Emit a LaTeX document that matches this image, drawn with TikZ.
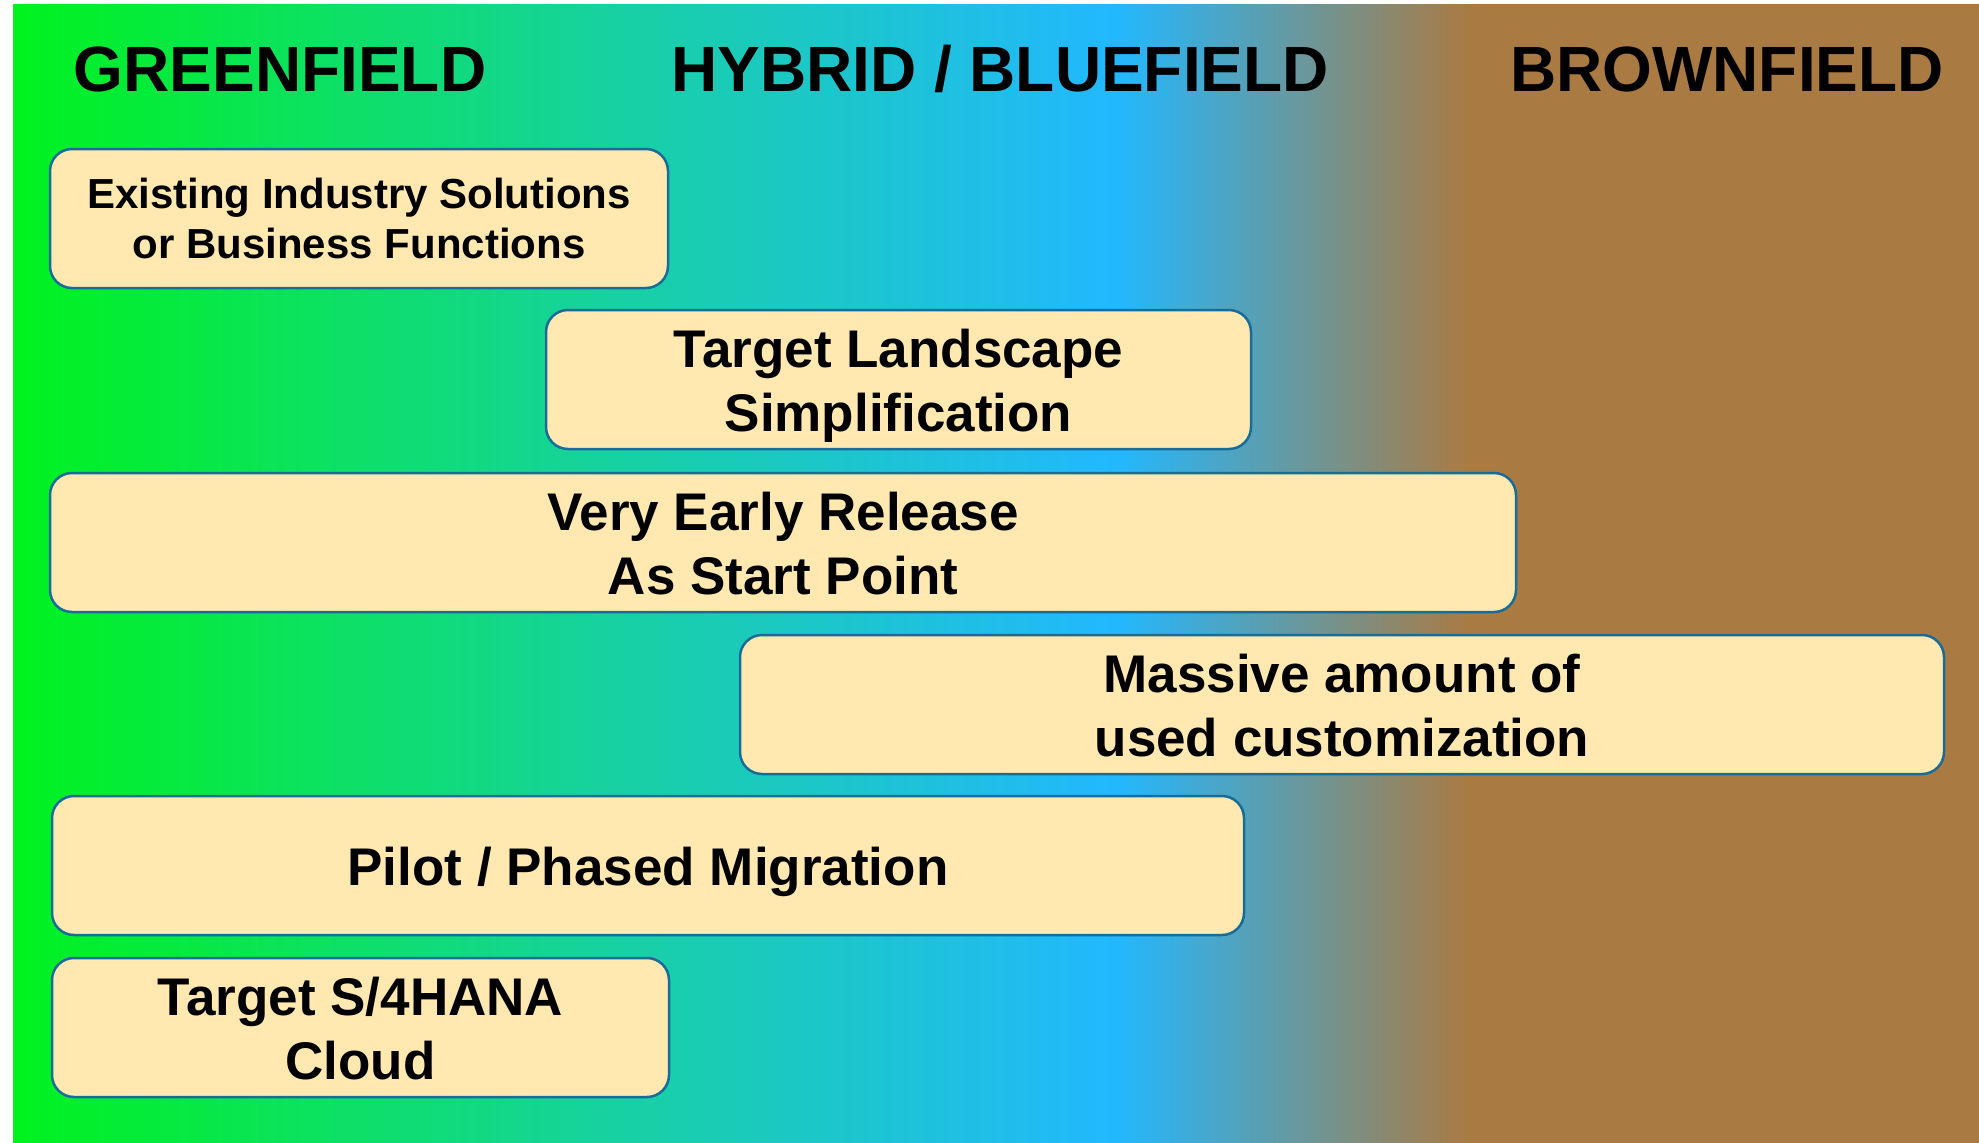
\documentclass[tikz,border=0pt]{standalone}
\usepackage{fontspec}
\setmainfont{Liberation Sans}
\definecolor{cgreen}{RGB}{0,242,30}
\definecolor{cteal}{RGB}{24,208,165}
\definecolor{cblue}{RGB}{34,184,255}
\definecolor{cbrown}{RGB}{170,122,67}
\definecolor{boxfill}{RGB}{255,233,176}
\definecolor{boxline}{RGB}{24,108,152}
\newcommand{\tallstrut}{\rule{0pt}{51pt}}
\newcommand{\midstrut}{\rule{0pt}{41pt}}
\tikzset{
  field/.style={inner sep=0pt, anchor=base, font=\fontsize{64}{70}\selectfont\bfseries},
  choice/.style={draw=boxline, line width=2.5pt, fill=boxfill, rounded corners=22pt,
    minimum height=139pt, inner sep=0pt, align=center,
    font=\fontsize{53}{64}\selectfont\bfseries},
  smallchoice/.style={choice, font=\fontsize{42}{50.5}\selectfont\bfseries}
}
\begin{document}
\begin{tikzpicture}[x=1pt,y=-1pt]
\useasboundingbox (0,0) rectangle (1979,1143);
\fill[white] (0,0) rectangle (1979,1143);
\fill[cbrown] (13,4) rectangle (1979,1143);
\shade[left color=cgreen, right color=cteal] (13,4) rectangle (632,1143);
\shade[left color=cteal, right color=cblue] (631,4) rectangle (1116,1143);
\shade[left color=cblue, right color=cbrown] (1115,4) rectangle (1470,1143);

\node[field] (g) at (280,91) {GREENFIELD};
\node[field] (h) at (1000,91) {HYBRID / BLUEFIELD};
\node[field] (b) at (1727,91) {BROWNFIELD};

\node[smallchoice, minimum width=618pt] (b1) at (359,218.5) {Existing Industry Solutions\\or Business Functions};
\node[choice, minimum width=705pt] (b2) at (898.5,379.5) {\tallstrut Target Landscape\\Simplification};
\node[choice, minimum width=1466pt] (b3) at (783,542.5) {\midstrut Very Early Release\\As Start Point};
\node[choice, minimum width=1204pt] (b4) at (1342,704.5) {\midstrut Massive amount of\\used customization};
\node[choice, minimum width=1192pt] (b5) at (648,865.5) {\tallstrut Pilot / Phased Migration};
\node[choice, minimum width=617pt] (b6) at (360.5,1027.5) {\midstrut Target S/4HANA\\Cloud};
\end{tikzpicture}
\end{document}
